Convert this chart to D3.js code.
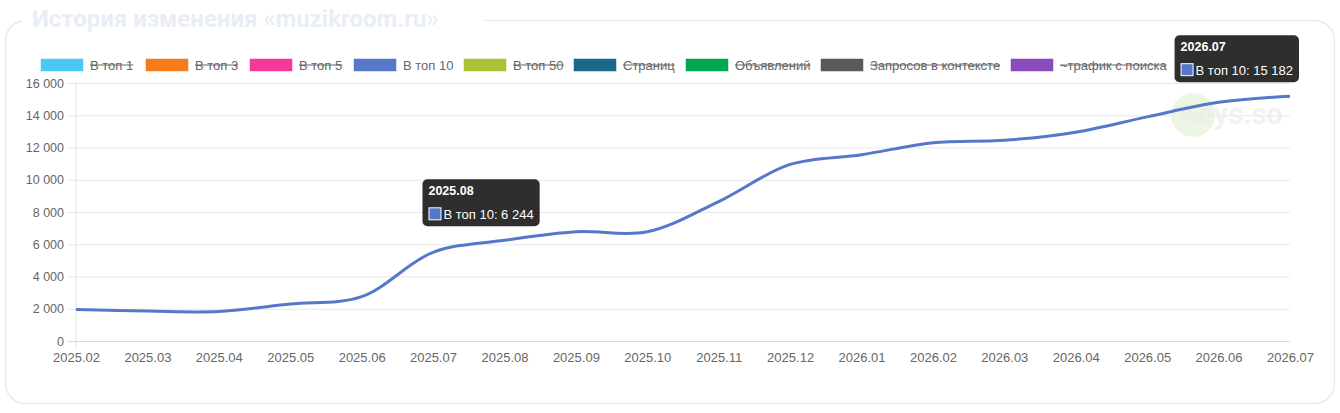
<!DOCTYPE html>
<html>
<head>
<meta charset="utf-8">
<script src="https://cdn.jsdelivr.net/npm/d3@7"></script>
<style>
  html, body { margin: 0; padding: 0; background: #fff; }
  svg { display: block; font-family: "Liberation Sans", Arial, sans-serif; }
</style>
</head>
<body>
<div id="chart"></div>
<script>
// data
const months = ["2025.02", "2025.03", "2025.04", "2025.05", "2025.06", "2025.07", "2025.08", "2025.09", "2025.10",
  "2025.11", "2025.12", "2026.01", "2026.02", "2026.03", "2026.04", "2026.05", "2026.06", "2026.07"];
const top10 = [1950, 1860, 1830, 2290, 2750, 5500, 6244, 6780, 6770, 8650, 10950, 11550, 12300, 12450, 12950, 13900, 14800, 15182];
const yTicks = [0, 2000, 4000, 6000, 8000, 10000, 12000, 14000, 16000];
const legendNames = ["В топ 1", "В топ 3", "В топ 5", "В топ 10", "В топ 50", "Страниц", "Объявлений", "Запросов в контексте", "~трафик с поиска"];
const legendColors = ["#4bc9f5", "#f57b1b", "#f5399a", "#5578c8", "#abc234", "#1b6789", "#00a650", "#5a5a5a", "#8a4bbd"];
const legendHidden = [true, true, true, false, true, true, true, true, true];
const tooltipMonths = ["2025.08", "2026.07"];
const titleText = "История изменения «muzikroom.ru»";

const W = 1340, H = 413;
const margin = { top: 83, right: 50, bottom: 72, left: 76 };
const fmt = d3.formatLocale({ decimal: ",", thousands: " ", grouping: [3], currency: ["", ""] }).format(",");

const svg = d3.select("#chart").append("svg")
  .attr("width", W)
  .attr("height", H);

// panel border
svg.append("rect")
  .attr("x", 5.5).attr("y", 20.5)
  .attr("width", W - 11).attr("height", H - 30)
  .attr("rx", 20).attr("ry", 20)
  .attr("fill", "#fff")
  .attr("stroke", "#e6ebf3")
  .attr("stroke-width", 1.5);

// title sits on the border
svg.append("rect")
  .attr("x", 22).attr("y", 0)
  .attr("width", 462).attr("height", 40)
  .attr("fill", "#fff");
svg.append("text")
  .attr("x", 32).attr("y", 27)
  .attr("font-family", "Roboto, sans-serif")
  .attr("font-weight", 700)
  .attr("font-size", 24)
  .attr("fill", "#e9eef6")
  .text(titleText);

const x = d3.scalePoint()
  .domain(months)
  .range([margin.left, W - margin.right]);

const y = d3.scaleLinear()
  .domain([0, 16000])
  .range([H - margin.bottom, margin.top]);

// grid + y axis
const yAxis = svg.append("g")
  .attr("transform", `translate(${margin.left},0)`)
  .call(d3.axisLeft(y).tickValues(yTicks).tickFormat(fmt).tickSizeInner(-(W - margin.right - margin.left)).tickSizeOuter(0).tickPadding(12));
yAxis.select(".domain").remove();
yAxis.selectAll(".tick line")
  .attr("x1", -8)
  .attr("stroke", (d) => d === 0 ? "#d9d9d9" : "#e8e8e8");
yAxis.selectAll(".tick text")
  .attr("fill", "#666")
  .attr("font-size", 12.5)
  .attr("font-family", "Liberation Sans, Arial, sans-serif");

// vertical axis line
svg.append("line")
  .attr("x1", margin.left).attr("x2", margin.left)
  .attr("y1", y(16000)).attr("y2", y(0) + 8)
  .attr("stroke", "#e3e3e3");

// x axis
const xAxis = svg.append("g")
  .attr("transform", `translate(0,${y(0)})`)
  .call(d3.axisBottom(x).tickSize(0).tickPadding(12));
xAxis.select(".domain").remove();
xAxis.selectAll(".tick text")
  .attr("fill", "#666")
  .attr("font-size", 13)
  .attr("font-family", "Liberation Sans, Arial, sans-serif");

// watermark
const wm = svg.append("g");
wm.append("circle")
  .attr("cx", 1193).attr("cy", 115).attr("r", 22)
  .attr("fill", "#e4f2d6")
  .attr("opacity", 0.7);
wm.append("text")
  .attr("x", 1180).attr("y", 124)
  .attr("font-family", "Roboto, sans-serif")
  .attr("font-weight", 700)
  .attr("font-size", 29)
  .attr("fill", "#ededed")
  .attr("opacity", 0.75)
  .text("Keys.so");

// line
const line = d3.line()
  .x((d, i) => x(months[i]))
  .y(d => y(d))
  .curve(d3.curveCatmullRom.alpha(0.5));

svg.append("path")
  .datum(top10)
  .attr("fill", "none")
  .attr("stroke", "#5578c8")
  .attr("stroke-width", 3)
  .attr("d", line);

// legend
const legendX = [40, 145, 249, 353, 463, 573, 685, 820, 1010];
const legend = svg.append("g").attr("transform", "translate(0,58)");
legendNames.forEach((name, i) => {
  const item = legend.append("g").attr("transform", `translate(${legendX[i]},0)`);
  item.append("rect")
    .attr("x", 0.5).attr("y", 0.5)
    .attr("width", 43).attr("height", 13)
    .attr("fill", legendColors[i])
    .attr("stroke", "#fff")
    .attr("stroke-width", 0.5);
  const t = item.append("text")
    .attr("x", 50).attr("y", 11.5)
    .attr("font-size", 13)
    .attr("fill", "#666")
    .text(name);
  if (legendHidden[i]) {
    const w = t.node().getComputedTextLength();
    item.append("line")
      .attr("x1", 50).attr("x2", 50 + w)
      .attr("y1", 7).attr("y2", 7)
      .attr("stroke", "#666")
      .attr("stroke-width", 1.2);
  }
});

// tooltips
tooltipMonths.forEach(m => {
  const i = months.indexOf(m);
  const label = "В топ 10: " + fmt(top10[i]);
  const g = svg.append("g");
  const body = g.append("text")
    .attr("font-size", 13)
    .attr("fill", "#fff")
    .text(label);
  const bw = body.node().getComputedTextLength() + 27;
  const left = Math.min(x(m) - 82, W - 41 - bw);
  const top = y(top10[i]) - 61;
  g.insert("rect", "text")
    .attr("x", left).attr("y", top)
    .attr("width", bw).attr("height", 47)
    .attr("rx", 5)
    .attr("fill", "rgba(0,0,0,0.82)");
  g.append("text")
    .attr("x", left + 6).attr("y", top + 16)
    .attr("font-size", 12.5)
    .attr("font-weight", 700)
    .attr("fill", "#fff")
    .text(m);
  g.append("rect")
    .attr("x", left + 6.5).attr("y", top + 28.5)
    .attr("width", 12).attr("height", 12)
    .attr("fill", "#5578c8")
    .attr("stroke", "#fff")
    .attr("stroke-width", 1);
  body.attr("x", left + 21).attr("y", top + 39.5);
});
</script>
</body>
</html>
